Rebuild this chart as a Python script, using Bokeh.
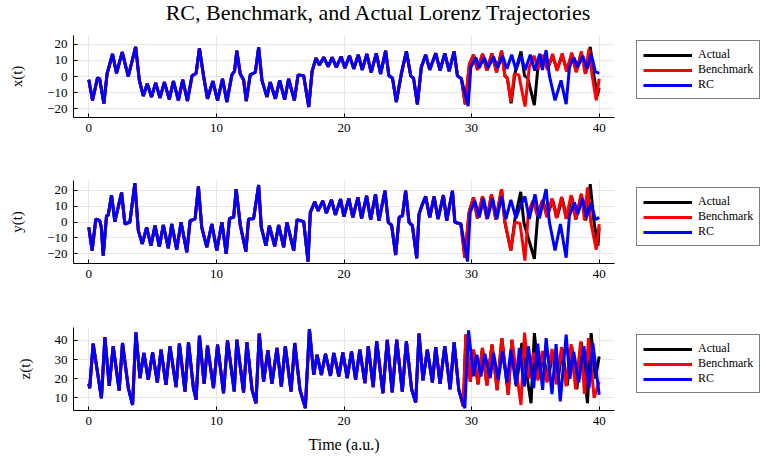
from bokeh.plotting import figure
from bokeh.models import Range1d, FixedTicker, CustomJSTickFormatter, Legend, LegendItem, Div
from bokeh.layouts import column
from bokeh.embed import file_html
from bokeh.resources import INLINE

FONT = "Liberation Serif"

# ---------------- data ----------------
# shared part (all three trajectories coincide until ~t=29.2)
tx_common = [0.0, 0.29, 0.68, 0.85, 1.18, 1.43, 1.86, 2.17, 2.62, 3.09, 3.67, 3.96, 4.27, 4.58, 4.92, 5.24, 5.58, 5.92, 6.31, 6.63, 7.02, 7.36, 7.73, 8.09, 8.41, 8.67, 8.99, 9.30, 9.72, 10.09, 10.48, 10.82, 11.21, 11.42, 11.6, 11.87, 12.13, 12.34, 12.65, 13.05, 13.31, 13.57, 13.96, 14.22, 14.62, 14.96, 15.35, 15.66, 16.11, 16.4, 16.84, 17.24, 17.5, 17.81, 18.07, 18.42, 18.76, 19.08, 19.39, 19.78, 20.07, 20.43, 20.77, 21.12, 21.43, 21.79, 22.13, 22.53, 22.87, 23.26, 23.52, 23.8, 24.1, 24.49, 24.89, 25.23, 25.45, 25.75, 26.06, 26.4, 26.72, 27.19, 27.53, 27.9, 28.24, 28.63, 28.89, 29.2]
x_common = [-2.0, -14.7, -0.8, -1.5, -16.7, 1.6, 13.9, 2.0, 15.1, 0.0, 18.3, -2.4, -12.0, -4.5, -12.6, -3.9, -13.2, -3.5, -14.1, -2.9, -14.7, -2.0, -15.1, 0.4, 2.0, 17.5, 0.4, -13.7, -2.9, -14.7, -1.4, -15.7, 1.0, 3.3, 15.9, 1.6, -2.0, -15.1, 1.0, 2.6, 17.9, -2.4, -12.6, -3.5, -13.7, -2.4, -14.3, -1.4, -14.7, 1.0, 0.4, -18.8, 3.3, 11.4, 7.1, 11.8, 6.1, 11.8, 5.7, 12.2, 5.3, 12.8, 4.7, 13.4, 4.1, 13.9, 2.6, 14.3, 1.6, 15.9, 0.4, -1.0, -15.7, 1.6, 15.5, 0.4, -1.0, -17.2, 5.7, 13.4, 4.1, 14.3, 3.7, 14.3, 3.3, 15.5, 0.4, -1.4]

tx_actual_tail = [29.5, 29.83, 30.15, 30.46, 30.86, 31.2, 31.59, 31.96, 32.35, 32.61, 32.8, 33.1, 33.4, 33.87, 34.15, 34.4, 34.92, 35.2, 35.6, 35.95, 36.35, 36.7, 37.1, 37.45, 37.85, 38.2, 38.6, 38.95, 39.3, 39.6, 39.85, 40.0]
x_actual_tail = [-17.2, 7.7, 13.4, 4.1, 13.9, 3.7, 14.3, 2.6, 15.9, 0.4, -1.0, -16.5, 2.0, 15.5, 0.4, -1.0, -17.7, 5.7, 12.0, 5.0, 12.5, 4.5, 13.0, 4.0, 13.5, 3.0, 14.5, 2.0, 18.3, 0.0, -12.0, -7.0]
tx_bench_tail = [29.5, 29.83, 30.15, 30.46, 30.86, 31.2, 31.59, 31.96, 32.35, 32.61, 32.8, 33.08, 33.35, 33.7, 34.19, 34.52, 34.9, 35.2, 35.6, 35.95, 36.35, 36.7, 37.1, 37.45, 37.85, 38.2, 38.6, 38.9, 39.2, 39.45, 39.77, 40.0]
x_bench_tail = [-17.2, 7.7, 13.4, 4.1, 13.9, 3.7, 14.3, 2.6, 15.9, 0.4, -1.0, -15.7, 1.6, 1.0, -18.5, 5.7, 12.8, 4.5, 13.4, 4.0, 13.9, 3.5, 14.3, 3.0, 14.8, 2.5, 15.5, 1.5, 17.0, 0.4, -14.7, -1.4]
tx_rc_tail = [29.73, 29.94, 30.33, 30.6, 30.99, 31.3, 31.72, 32.04, 32.43, 32.77, 33.14, 33.48, 33.87, 34.2, 34.6, 34.95, 35.35, 35.55, 35.84, 36.1, 36.54, 37.01, 37.41, 37.67, 38.01, 38.32, 38.71, 39.06, 39.37, 39.7, 40.0]
x_rc_tail = [-18.3, 5.7, 11.8, 5.3, 11.8, 5.3, 12.2, 5.3, 12.8, 4.7, 13.4, 4.1, 12.8, 4.0, 13.4, 3.7, 14.0, 4.0, 16.3, 0.4, -14.7, -2.4, -17.1, 5.7, 11.8, 5.7, 12.8, 4.7, 13.9, 3.0, 2.0]

ty_common = [0.0, 0.26, 0.55, 0.86, 0.98, 1.13, 1.39, 1.52, 1.78, 2.04, 2.57, 2.83, 3.22, 3.61, 3.88, 4.19, 4.53, 4.87, 5.19, 5.53, 5.84, 6.23, 6.5, 6.89, 7.23, 7.68, 7.94, 8.33, 8.59, 8.85, 9.25, 9.64, 10.03, 10.43, 10.77, 11.03, 11.35, 11.55, 11.87, 12.31, 12.52, 12.91, 13.31, 13.52, 13.88, 14.15, 14.57, 14.88, 15.27, 15.53, 16.06, 16.32, 16.84, 17.18, 17.36, 17.71, 17.97, 18.34, 18.62, 19.02, 19.33, 19.73, 19.99, 20.38, 20.69, 21.09, 21.38, 21.77, 22.09, 22.47, 22.74, 23.21, 23.47, 23.73, 24.05, 24.32, 24.58, 24.83, 25.1, 25.36, 25.70, 25.88, 26.14, 26.4, 26.72, 27.06, 27.37, 27.79, 28.05, 28.5, 28.69, 29.16]
y_common = [-3.4, -18.1, 1.9, 0.8, -3.4, -21.3, 4.0, 4.3, 17.0, 0.2, 18.7, -1.3, 0.0, 24.6, -5.5, -13.9, -3.4, -15.0, -2.3, -15.6, -1.9, -16.6, -1.3, -17.5, -0.2, -19.2, 0.8, 2.0, 22.5, -3.4, -16.0, -1.3, -18.1, -0.2, -20.2, 2.3, 3.0, 20.8, -1.9, -18.8, 1.9, 2.0, 23.4, -3.4, -15.0, -2.3, -15.4, -1.9, -16.0, -0.2, -18.1, 1.5, 0.2, -25.1, 6.1, 12.8, 7.1, 13.4, 5.7, 14.0, 4.5, 14.5, 3.5, 14.9, 2.9, 15.6, 2.3, 16.6, 1.5, 17.6, 0.8, 19.8, -0.2, -2.0, -20.9, 2.9, 4.0, 19.8, -0.2, -2.3, -23.0, 5.0, 11.2, 16.2, 2.9, 16.2, 1.9, 17.0, 0.8, 19.8, -0.2, -1.3]

ty_actual_tail = [29.47, 29.8, 30.15, 30.46, 30.86, 31.2, 31.56, 31.9, 32.35, 32.61, 33.08, 33.4, 33.85, 34.1, 34.92, 35.2, 35.6, 35.95, 36.35, 36.7, 37.1, 37.45, 37.85, 38.2, 38.6, 38.95, 39.3, 39.6, 39.9, 40.0]
y_actual_tail = [-22.6, 6.0, 15.6, 2.3, 16.2, 1.9, 17.6, 1.5, 20.8, -0.2, -18.1, 2.0, 19.1, -0.5, -23.4, 6.0, 13.0, 4.0, 14.0, 3.0, 15.0, 2.5, 16.0, 2.0, 17.5, 1.0, 24.0, -0.5, -15.0, -3.4]
ty_bench_tail = [29.47, 29.8, 30.15, 30.46, 30.86, 31.2, 31.56, 31.9, 32.35, 32.61, 33.08, 33.4, 33.8, 34.18, 34.45, 34.8, 35.15, 35.55, 35.9, 36.3, 36.65, 37.05, 37.4, 37.8, 38.15, 38.6, 38.85, 39.08, 39.35, 39.77, 40.0]
y_bench_tail = [-22.6, 6.0, 15.6, 2.3, 16.2, 1.9, 17.6, 1.5, 20.8, -0.2, -18.1, -0.2, -1.0, -24.5, 6.0, 13.4, 4.0, 14.0, 3.0, 15.0, 2.5, 16.0, 2.0, 17.0, 1.5, 18.0, 1.0, 21.9, -0.5, -17.5, -1.3]
ty_rc_tail = [29.68, 29.89, 30.26, 30.6, 30.94, 31.25, 31.65, 31.98, 32.35, 32.69, 33.08, 33.48, 33.8, 34.18, 34.52, 34.97, 35.31, 35.84, 36.1, 36.54, 36.96, 37.41, 37.67, 38.06, 38.32, 38.71, 39.0, 39.37, 39.7, 40.0]
y_rc_tail = [-25.1, 6.1, 13.4, 2.9, 14.9, 2.3, 14.9, 1.9, 16.2, 1.9, 14.0, 2.3, 10.0, 16.2, 1.9, 17.6, 2.3, 20.8, -0.2, -18.1, -1.3, -22.6, 4.0, 12.4, 5.0, 14.9, 3.0, 12.0, 1.5, 2.9]

tz_common = [0.0, 0.07, 0.34, 0.99, 1.26, 1.6, 1.91, 2.38, 2.64, 3.1, 3.43, 3.69, 4.01, 4.32, 4.66, 5.0, 5.37, 5.66, 6.05, 6.36, 6.84, 7.1, 7.54, 7.81, 8.2, 8.41, 8.67, 9.04, 9.3, 9.77, 10.09, 10.56, 10.87, 11.4, 11.6, 12.13, 12.39, 12.8, 13.1, 13.36, 13.7, 14.04, 14.35, 14.75, 15.09, 15.4, 15.85, 16.14, 16.55, 16.97, 17.29, 17.63, 17.89, 18.23, 18.55, 18.94, 19.2, 19.6, 19.91, 20.25, 20.59, 20.91, 21.24, 21.64, 21.9, 22.29, 22.56, 23.05, 23.39, 23.78, 24.13, 24.57, 24.89, 25.3, 25.62, 25.88, 26.19, 26.53, 26.93, 27.19, 27.53, 27.9, 28.32, 28.63, 29.0]
z_common = [17.3, 15.1, 38.3, 9.8, 41.7, 16.3, 36.9, 13.8, 38.6, 15.0, 6.3, 44.2, 20.3, 33.4, 19.4, 33.7, 18.0, 35.1, 16.8, 36.9, 15.6, 38.3, 13.3, 39.0, 15.0, 9.0, 42.4, 17.3, 37.2, 15.1, 37.7, 12.4, 40.0, 13.3, 40.3, 12.8, 39.0, 14.0, 7.2, 43.5, 18.5, 34.8, 17.3, 36.0, 15.9, 36.9, 13.3, 38.6, 14.2, 4.6, 45.9, 22.0, 32.5, 22.0, 33.0, 21.5, 33.4, 21.2, 33.7, 20.3, 34.2, 19.4, 35.1, 17.7, 36.9, 15.6, 39.5, 12.4, 40.3, 12.8, 40.3, 13.3, 39.5, 14.5, 7.6, 43.5, 19.1, 35.1, 18.0, 36.5, 17.3, 36.9, 14.5, 39.0, 14.0]

tz_actual_tail = [29.35, 29.55, 29.9, 30.15, 30.5, 30.85, 31.2, 31.6, 32.0, 32.37, 32.87, 33.16, 33.5, 33.94, 34.66, 34.92, 35.3, 35.6, 36.0, 36.35, 36.75, 37.1, 37.5, 37.85, 38.25, 38.6, 39.08, 39.37, 39.7, 40.0]
z_actual_tail = [5.5, 43.0, 18.5, 35.1, 17.0, 36.0, 16.5, 37.8, 14.0, 41.2, 11.6, 40.3, 16.0, 38.6, 7.2, 43.8, 20.0, 33.0, 19.0, 34.0, 18.0, 35.5, 16.5, 37.0, 14.5, 39.0, 7.2, 43.8, 20.0, 31.6]
tz_bench_tail = [29.35, 29.55, 29.9, 30.15, 30.5, 30.85, 31.2, 31.6, 32.0, 32.37, 32.87, 33.16, 33.87, 34.15, 34.5, 34.85, 35.2, 35.55, 35.9, 36.3, 36.65, 37.05, 37.4, 37.8, 38.15, 38.55, 38.85, 39.17, 39.6, 40.0]
z_bench_tail = [5.5, 43.0, 18.5, 35.1, 17.0, 36.0, 16.5, 37.8, 14.0, 41.2, 11.6, 40.3, 6.3, 44.0, 20.0, 33.5, 19.0, 34.5, 18.0, 35.5, 17.0, 36.5, 16.0, 38.0, 14.5, 39.5, 12.0, 41.2, 10.0, 18.5]
tz_rc_tail = [29.47, 29.76, 30.15, 30.41, 30.73, 31.04, 31.46, 31.72, 32.09, 32.43, 32.77, 33.08, 33.48, 33.74, 34.13, 34.45, 34.86, 35.18, 35.57, 35.84, 36.3, 36.62, 36.95, 37.41, 37.7, 38.0, 38.4, 38.8, 39.2, 39.5, 40.0]
z_rc_tail = [4.6, 45.2, 21.2, 32.5, 21.2, 33.0, 20.3, 33.4, 19.4, 34.2, 18.0, 35.1, 16.8, 36.0, 15.9, 36.9, 15.1, 38.3, 14.2, 41.2, 12.0, 38.0, 8.1, 43.0, 20.0, 34.0, 18.0, 37.0, 15.0, 38.5, 11.6]

series_names = ["Actual", "Benchmark", "RC"]
series_colors = ["#000000", "#ff0000", "#0000ff"]

x_ticks = [0, 10, 20, 30, 40]
xy_ticks = [-20, -10, 0, 10, 20]
z_ticks = [10, 20, 30, 40]

TITLE = "RC, Benchmark, and Actual Lorenz Trajectories"

# ---------------- drawing ----------------
MINUS = CustomJSTickFormatter(code="return tick < 0 ? '\u2212' + (-tick) : '' + tick;")


def panel(common_t, common_v, tails, ylabel, yr, yticks, top, bottom, fh, leg_y, xlabel=None):
    p = figure(frame_width=541, frame_height=fh, min_border_left=73, min_border_right=146,
               min_border_top=top, min_border_bottom=bottom,
               x_range=Range1d(-1.2, 41.2), y_range=Range1d(*yr),
               output_backend="svg", toolbar_location=None)
    p.outline_line_color = None
    p.background_fill_color = "white"
    p.border_fill_color = "white"
    items = []
    for (tt, vv), name, col in zip(tails, series_names, series_colors):
        r = p.line(common_t + tt, common_v + vv, line_color=col, line_width=3)
        items.append(LegendItem(label=name, renderers=[r]))
    for ax in (p.xaxis[0], p.yaxis[0]):
        ax.major_tick_in = 4
        ax.major_tick_out = 0
        ax.minor_tick_line_color = None
        ax.axis_line_color = "#000000"
        ax.major_tick_line_color = "#000000"
        ax.major_label_text_font = FONT
        ax.major_label_text_font_size = "13px"
        ax.major_label_text_color = "#000000"
        ax.axis_label_text_font = FONT
        ax.axis_label_text_font_style = "normal"
        ax.axis_label_text_color = "#000000"
    p.xaxis.ticker = FixedTicker(ticks=x_ticks)
    p.yaxis.ticker = FixedTicker(ticks=yticks)
    p.yaxis.formatter = MINUS
    p.xaxis.major_label_standoff = 6
    p.yaxis.major_label_standoff = 6
    p.yaxis.axis_label = ylabel
    p.yaxis.axis_label_text_font_size = "15px"
    p.yaxis.axis_label_standoff = 19
    if xlabel:
        p.xaxis.axis_label = xlabel
        p.xaxis.axis_label_text_font_size = "16px"
        p.xaxis.axis_label_standoff = 8
    p.grid.grid_line_color = "#e6e6e6"
    p.grid.grid_line_width = 1
    leg = Legend(items=items, location=(22, leg_y), orientation="vertical")
    leg.label_text_font = FONT
    leg.label_text_font_size = "12px"
    leg.label_text_line_height = 1.0
    leg.label_text_color = "#000000"
    leg.glyph_width = 49
    leg.glyph_height = 12
    leg.label_height = 12
    leg.label_standoff = 6
    leg.padding = 6
    leg.spacing = 0
    leg.margin = 0
    leg.border_line_color = "#000000"
    leg.border_line_width = 1
    leg.background_fill_color = "white"
    leg.background_fill_alpha = 1.0
    p.add_layout(leg, "right")
    return p


title_div = Div(text=TITLE, width=756, height=33, margin=0,
                styles={"font-family": "'Liberation Serif', serif", "font-size": "22px",
                        "text-align": "center", "color": "#000000", "line-height": "26px"})

p1 = panel(tx_common, x_common,
           [(tx_actual_tail, x_actual_tail), (tx_bench_tail, x_bench_tail), (tx_rc_tail, x_rc_tail)],
           "x(t)", (-25.3, 25.3), xy_ticks, 2, 33, 82, 18)
p2 = panel(ty_common, y_common,
           [(ty_actual_tail, y_actual_tail), (ty_bench_tail, y_bench_tail), (ty_rc_tail, y_rc_tail)],
           "y(t)", (-26.3, 26.3), xy_ticks, 30, 34, 83, 17)
p3 = panel(tz_common, z_common,
           [(tz_actual_tail, z_actual_tail), (tz_bench_tail, z_bench_tail), (tz_rc_tail, z_rc_tail)],
           "z(t)", (3.4, 46.7), z_ticks, 30, 42, 83, 17, xlabel="Time (a.u.)")

layout = column(title_div, p1, p2, p3, spacing=0)
open("out.html", "w").write(file_html(layout, INLINE))
